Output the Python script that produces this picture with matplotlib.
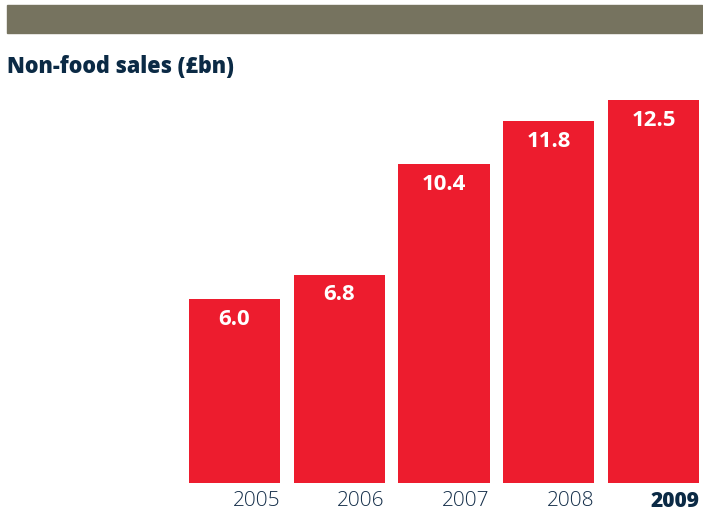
import matplotlib
matplotlib.use("Agg")
import matplotlib.pyplot as plt
from matplotlib.patches import Rectangle

years = ['2005', '2006', '2007', '2008', '2009']
sales = [6.0, 6.8, 10.4, 11.8, 12.5]

W, H = 703, 518
red = '#ED1C2E'
navy = '#0B2A45'

fig = plt.figure(figsize=(W / 100, H / 100), dpi=100)

# banner across the top
fig.patches.append(Rectangle((7 / W, 1 - 33 / H), (702 - 7) / W, 28 / H,
                             transform=fig.transFigure, color='#76735F', zorder=0))
fig.text(7 / W, 1 - 73 / H, 'Non-food sales (£bn)', family='Open Sans', fontweight='heavy',
         fontsize=15.5, color=navy, va='baseline', ha='left')

ax = fig.add_axes([0, 1 - 483 / H, 1, (483 - 90) / H])
ax.set_xlim(-234.5 / 104.75, (703 - 234.5) / 104.75)
ax.set_ylim(0, 12.5 * 393 / 383)
ax.axis('off')

width = 0.87
x = list(range(len(years)))
ax.bar(x, sales, width=width, color=red)

for i, (yr, v) in enumerate(zip(years, sales)):
    ax.annotate(f'{v:.1f}', xy=(i, v), xytext=(0, -20), textcoords='offset pixels',
                ha='center', va='center', color='white', family='Open Sans',
                fontweight='bold', fontsize=16)
    last = i == len(years) - 1
    ax.annotate(yr, xy=(i + width / 2, 0), xytext=(0, -8), textcoords='offset pixels',
                ha='right', va='top', color=navy if last else '#152F4A',
                family='Open Sans', fontweight='heavy' if last else 'light', fontsize=15)

fig.savefig('out.png', dpi=100)
